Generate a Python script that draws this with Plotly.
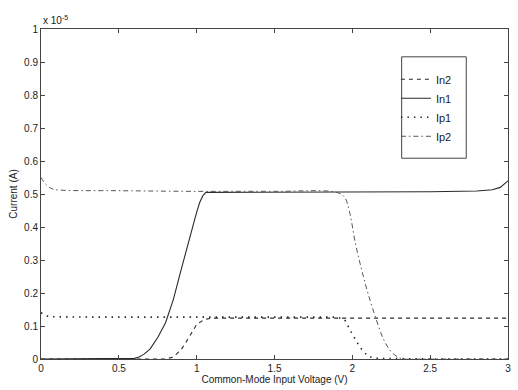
import plotly.graph_objects as go

# Currents in units of 1e-5 A
in2_v = [0, 0.8, 0.85, 0.9, 0.95, 1.0, 1.05, 1.1, 1.5, 2.0, 2.5, 3.0]
in2_i = [0, 0, 0.006, 0.028, 0.065, 0.105, 0.12, 0.124, 0.124, 0.124, 0.124, 0.124]

in1_v = [0, 0.55, 0.6, 0.63, 0.66, 0.7, 0.75, 0.8, 0.85, 0.9, 0.95, 1.0, 1.02, 1.04, 1.06, 1.5, 2.0, 2.5, 2.8, 2.9, 2.95, 3.0]
in1_i = [0, 0, 0.002, 0.006, 0.014, 0.03, 0.065, 0.11, 0.18, 0.27, 0.36, 0.445, 0.475, 0.495, 0.505, 0.505, 0.506, 0.507, 0.509, 0.513, 0.52, 0.54]

ip1_v = [0, 0.05, 0.3, 1.0, 1.5, 1.9, 1.95, 2.0, 2.05, 2.1, 2.15, 2.5, 3.0]
ip1_i = [0.14, 0.128, 0.127, 0.127, 0.127, 0.127, 0.12, 0.075, 0.035, 0.008, 0.002, 0, 0]

ip2_v = [0, 0.03, 0.07, 0.12, 0.5, 1.0, 1.5, 1.9, 1.95, 1.98, 2.02, 2.06, 2.1, 2.15, 2.2, 2.25, 2.3, 2.33, 2.5, 3.0]
ip2_i = [0.55, 0.53, 0.516, 0.512, 0.51, 0.508, 0.508, 0.505, 0.49, 0.45, 0.35, 0.27, 0.2, 0.125, 0.06, 0.022, 0.004, 0, 0, 0]

x_ticks = [0, 0.5, 1, 1.5, 2, 2.5, 3]
y_ticks = [0, 0.1, 0.2, 0.3, 0.4, 0.5, 0.6, 0.7, 0.8, 0.9, 1]

col = "#2a2a2a"
font_fam = "Liberation Sans, Arial"
fig = go.Figure()
fig.add_trace(go.Scatter(x=in2_v, y=in2_i, name="In2", mode="lines",
                         line=dict(color=col, width=1.1, dash="4px,4px")))
fig.add_trace(go.Scatter(x=in1_v, y=in1_i, name="In1", mode="lines",
                         line=dict(color=col, width=1.1)))
fig.add_trace(go.Scatter(x=ip1_v, y=ip1_i, name="Ip1", mode="lines",
                         line=dict(color=col, width=1.6, dash="1.5px,5px")))
fig.add_trace(go.Scatter(x=ip2_v, y=ip2_i, name="Ip2", mode="lines", line_shape="spline",
                         line=dict(color="#555", width=1.0, dash="5px,3px,1.5px,3px")))

axis_common = dict(showgrid=False, zeroline=False, showline=True, linecolor="#444", linewidth=1,
                   mirror="allticks", ticks="inside", ticklen=4, tickcolor="#444",
                   tickfont=dict(family=font_fam, size=10, color="#222"))

fig.update_xaxes(range=[0, 3], tickvals=x_ticks, ticktext=[str(t) for t in x_ticks],
                 title=dict(text="Common-Mode Input Voltage (V)", standoff=2,
                            font=dict(family=font_fam, size=10, color="#222")),
                 **axis_common)
fig.update_yaxes(range=[0, 1], tickvals=y_ticks, ticktext=[("%g" % t) for t in y_ticks],
                 title=dict(text="Current (A)", standoff=4,
                            font=dict(family=font_fam, size=10, color="#222")),
                 **axis_common)

fig.add_annotation(text="x 10<sup>-5</sup>", xref="paper", yref="paper", x=0, y=1,
                   xanchor="left", yanchor="bottom", showarrow=False, yshift=1,
                   font=dict(family=font_fam, size=10, color="#222"))

# legend frame
fig.add_shape(type="rect", xref="paper", yref="paper",
              x0=0.7723, x1=0.9106, y0=0.6084, y1=0.9157,
              line=dict(color="#444", width=1), fillcolor="rgba(0,0,0,0)")

fig.update_layout(
    width=518, height=390,
    margin=dict(l=41, r=7, t=29, b=29),
    plot_bgcolor="white", paper_bgcolor="white",
    showlegend=True,
    legend=dict(x=0.76, y=0.8916, xanchor="left", yanchor="top",
                bgcolor="rgba(0,0,0,0)", borderwidth=0,
                font=dict(family=font_fam, size=11, color="#222"),
                itemwidth=30),
)

fig.write_html("out.html")
